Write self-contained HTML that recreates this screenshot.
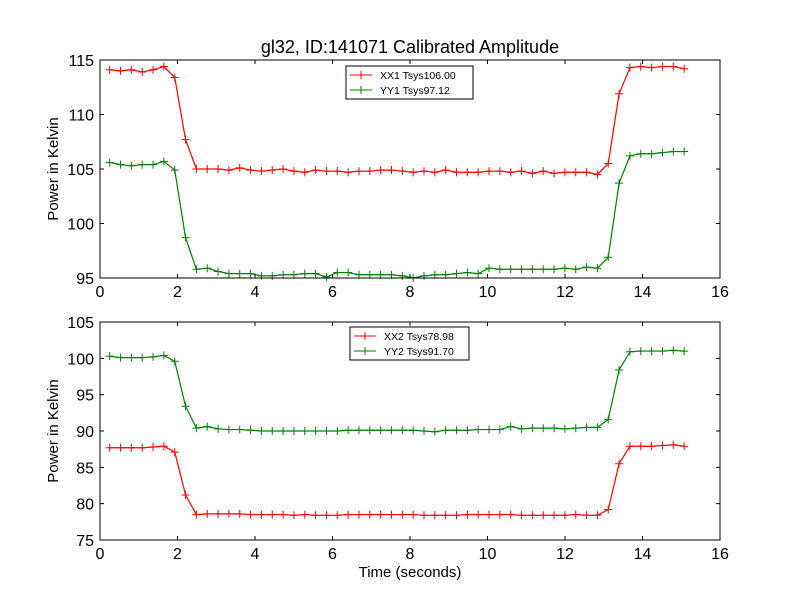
<!DOCTYPE html>
<html><head><meta charset="utf-8"><style>
body{margin:0;background:#fff;}
svg{display:block;font-family:"Liberation Sans","DejaVu Sans",sans-serif;}
</style></head><body>
<svg id="c" width="800" height="600" xmlns="http://www.w3.org/2000/svg">
<rect width="800" height="600" fill="#fff"/>
<text x="410" y="53" font-size="18" text-anchor="middle">gl32, ID:141071 Calibrated Amplitude</text>
</svg>
<script>
const xx1=[114.1,114.0,114.1,113.9,114.1,114.4,113.4,107.7,
105.0,105.0,105.0,104.9,105.1,104.9,104.8,104.9,105.0,104.8,104.7,104.9,104.8,104.8,104.7,104.8,104.8,104.9,104.9,104.8,104.7,104.8,104.7,104.9,104.7,104.7,104.7,104.8,104.8,104.7,104.8,104.6,104.8,104.6,104.7,104.7,104.7,104.5,
105.5,111.9,114.3,114.4,114.3,114.4,114.4,114.2];
const yy1=[105.6,105.4,105.3,105.4,105.4,105.7,104.9,98.7,
95.8,95.9,95.6,95.4,95.4,95.4,95.2,95.2,95.3,95.3,95.4,95.4,95.1,95.5,95.5,95.3,95.3,95.3,95.3,95.2,95.0,95.2,95.3,95.3,95.4,95.5,95.4,95.9,95.8,95.8,95.8,95.8,95.8,95.8,95.9,95.8,96.0,95.9,
96.9,103.7,106.2,106.4,106.4,106.5,106.6,106.6];
const xx2=[87.7,87.7,87.7,87.7,87.8,87.9,87.1,81.2,
78.5,78.6,78.6,78.6,78.6,78.5,78.5,78.5,78.5,78.4,78.5,78.4,78.4,78.4,78.5,78.5,78.5,78.5,78.5,78.5,78.5,78.4,78.4,78.4,78.4,78.5,78.5,78.5,78.5,78.5,78.4,78.4,78.4,78.4,78.4,78.5,78.4,78.4,
79.2,85.5,87.9,87.9,87.9,88.0,88.1,87.9];
const yy2=[100.3,100.1,100.1,100.1,100.2,100.4,99.6,93.4,
90.4,90.6,90.3,90.2,90.2,90.1,90.0,90.0,90.0,90.0,90.0,90.0,90.0,90.0,90.1,90.1,90.1,90.1,90.1,90.1,90.1,90.0,89.9,90.1,90.1,90.1,90.2,90.2,90.2,90.6,90.3,90.4,90.4,90.4,90.3,90.4,90.5,90.5,
91.6,98.4,100.9,101.0,101.0,101.0,101.1,101.0];
const xticks=[0,2,4,6,8,10,12,14,16];
const yticksTop=[95,100,105,110,115];
const yticksBot=[75,80,85,90,95,100,105];
const t0=0.25, dt=0.2797;
const NS='http://www.w3.org/2000/svg';
const svg=document.getElementById('c');
function mk(tag,attrs,parent){const e=document.createElementNS(NS,tag);for(const k in attrs)e.setAttribute(k,attrs[k]);(parent||svg).appendChild(e);return e;}
function panel(top,bot,ymin,ymax,yticks,series,legend,lx,ly,lw,ylab,xlab,pname){
  const L=100,R=720;
  const g=mk('g',{});
  
  
  const sx=v=>L+(v-0)/(16-0)*(R-L);
  const sy=v=>bot-(v-ymin)/(ymax-ymin)*(bot-top);
  series.forEach(s=>{
    const pts=s.d.map((v,i)=>[sx(t0+i*dt),sy(v)]);
    const pl=mk('polyline',{points:pts.map(p=>p.join(',')).join(' '),fill:'none',stroke:s.c,'stroke-width':1.2},g);
    
    
    pts.forEach(p=>{
      const m=mk('path',{d:`M${p[0]-4},${p[1]}h8M${p[0]},${p[1]-4}v8`,stroke:s.c,'stroke-width':1},g);
      
      
    });
  });
  const fr=mk('rect',{x:L,y:top,width:R-L,height:bot-top,fill:'none',stroke:'#000','stroke-width':1},g);
  
  
  xticks.forEach(v=>{
    const x=sx(v);
    mk('path',{d:`M${x},${bot}v-4M${x},${top}v4`,stroke:'#000'},g);
    const t=mk('text',{x:x,y:bot+19,'font-size':16,'text-anchor':'middle'},g);t.textContent=v;
    
    
  });
  yticks.forEach(v=>{
    const y=sy(v);
    mk('path',{d:`M${L},${y}h4M${R},${y}h-4`,stroke:'#000'},g);
    const t=mk('text',{x:L-6,y:y+6,'font-size':16,'text-anchor':'end'},g);t.textContent=v;
    
    
  });
  const yl=mk('text',{x:0,y:0,'font-size':15,'text-anchor':'middle',transform:`translate(58,${(top+bot)/2}) rotate(-90)`},g);yl.textContent=ylab;
  
  
  if(xlab){const xl=mk('text',{x:410,y:577,'font-size':15,'text-anchor':'middle'},g);xl.textContent=xlab;
    
    }
  const lg=mk('g',{},g);
  
  
  mk('rect',{x:lx,y:ly,width:lw,height:33,fill:'#fff',stroke:'#000'},lg);
  legend.forEach((s,i)=>{
    const yy=ly+9+i*15;
    mk('path',{d:`M${lx+4},${yy}h22M${lx+15},${yy-4}v8`,stroke:s.c},lg);
    const t=mk('text',{x:lx+34,y:yy+4,'font-size':10.5},lg);t.textContent=s.n;
    
    
  });
}
panel(60,278,95,115,yticksTop,[{d:xx1,c:'#ff0000',n:'xx1'},{d:yy1,c:'#008000',n:'yy1'}],
  [{c:'#ff0000',n:'XX1 Tsys106.00'},{c:'#008000',n:'YY1 Tsys97.12'}],346,66,127,'Power in Kelvin',null,'top-panel');
panel(322,540,75,105,yticksBot,[{d:yy2,c:'#008000',n:'yy2'},{d:xx2,c:'#ff0000',n:'xx2'}],
  [{c:'#ff0000',n:'XX2 Tsys78.98'},{c:'#008000',n:'YY2 Tsys91.70'}],350,327,119,'Power in Kelvin','Time (seconds)','bottom-panel');
</script>
</body></html>
